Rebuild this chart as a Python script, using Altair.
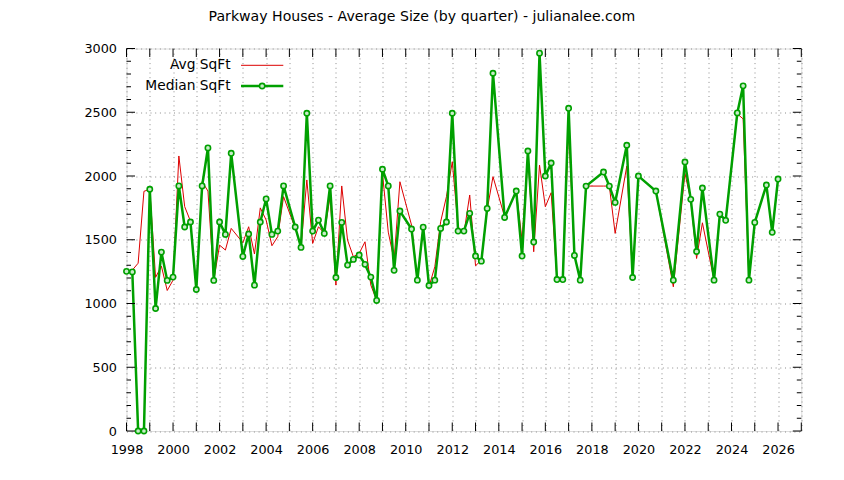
import altair as alt
import pandas as pd

# ---------------- data ----------------
quarters = [
    "1998Q1", "1998Q2", "1998Q3", "1998Q4",
    "1999Q1", "1999Q2", "1999Q3", "1999Q4",
    "2000Q1", "2000Q2", "2000Q3", "2000Q4",
    "2001Q1", "2001Q2", "2001Q3", "2001Q4",
    "2002Q1", "2002Q2", "2002Q3",
    "2003Q1", "2003Q2", "2003Q3", "2003Q4",
    "2004Q1", "2004Q2", "2004Q3", "2004Q4",
    "2005Q2", "2005Q3", "2005Q4",
    "2006Q1", "2006Q2", "2006Q3", "2006Q4",
    "2007Q1", "2007Q2", "2007Q3", "2007Q4",
    "2008Q1", "2008Q2", "2008Q3", "2008Q4",
    "2009Q1", "2009Q2", "2009Q3", "2009Q4",
    "2010Q2", "2010Q3", "2010Q4",
    "2011Q1", "2011Q2", "2011Q3", "2011Q4",
    "2012Q1", "2012Q2", "2012Q3", "2012Q4",
    "2013Q1", "2013Q2", "2013Q3", "2013Q4",
    "2014Q2", "2014Q4",
    "2015Q1", "2015Q2", "2015Q3", "2015Q4",
    "2016Q1", "2016Q2", "2016Q3", "2016Q4",
    "2017Q1", "2017Q2", "2017Q3", "2017Q4",
    "2018Q3", "2018Q4",
    "2019Q1", "2019Q3", "2019Q4",
    "2020Q1", "2020Q4",
    "2021Q3",
    "2022Q1", "2022Q2", "2022Q3", "2022Q4",
    "2023Q2", "2023Q3", "2023Q4",
    "2024Q2", "2024Q3", "2024Q4",
    "2025Q1", "2025Q3", "2025Q4",
    "2026Q1",
]

median_sqft = [
    1252, 1248, 0, 0,
    1896, 961, 1403, 1181,
    1207, 1922, 1600, 1639,
    1110, 1922, 2220, 1181,
    1639, 1542, 2178,
    1369, 1545, 1144, 1639,
    1820, 1542, 1568, 1922,
    1600, 1440, 2492,
    1568, 1654, 1550, 1922,
    1204, 1636, 1301, 1346,
    1380, 1307, 1207, 1024,
    2053, 1922, 1260, 1725,
    1584, 1183, 1599,
    1141, 1183, 1589, 1639,
    2492, 1568, 1568, 1707,
    1372, 1332, 1746, 2806,
    1675, 1882,
    1372, 2196, 1482, 2963,
    2000, 2102, 1188, 1188,
    2531, 1377, 1183, 1921,
    2031, 1921,
    1793, 2241, 1204,
    2000, 1882,
    1183,
    2110, 1817, 1408, 1906,
    1183, 1701, 1652,
    2495, 2707, 1183,
    1636, 1929, 1558,
    1976,
]

avg_sqft = [
    1252, 1262, 1316, 1880,
    1896, 1205, 1293, 1102,
    1183, 2157, 1760, 1645,
    1110, 1955, 1882, 1181,
    1458, 1419, 1589,
    1477, 1602, 1388, 1750,
    1655, 1453, 1524, 1838,
    1589, 1445, 1969,
    1471, 1602, 1550, 1838,
    1144, 1922, 1497, 1367,
    1393, 1484, 1144, 1024,
    2021, 1560, 1340, 1955,
    1615, 1183, 1599,
    1131, 1288, 1641, 1838,
    2112, 1602, 1550, 1851,
    1296, 1340, 1733, 1995,
    1680, 1882,
    1497, 2178, 1406, 2086,
    1759, 1869, 1188, 1188,
    2380, 1377, 1183, 1921,
    1921, 1921,
    1550, 2078, 1204,
    2000, 1882,
    1131,
    2021, 1811, 1353, 1633,
    1183, 1701, 1652,
    2487, 2448, 1183,
    1636, 1929, 1558,
    1976,
]

legend_labels = ["Avg SqFt", "Median SqFt"]
title_text = "Parkway Houses - Average Size (by quarter) - julianalee.com"

year_ticks = list(range(1998, 2028))
y_major = [0, 500, 1000, 1500, 2000, 2500, 3000]
y_minor = [v for v in range(0, 3001, 100) if v % 500 != 0]

assert len(quarters) == len(median_sqft) == len(avg_sqft)

df = pd.DataFrame({"quarter": quarters, "avg": avg_sqft, "median": median_sqft})
df["t"] = df["quarter"].str[:4].astype(int) + (df["quarter"].str[-1].astype(int) - 1) / 4.0

# ---------------- styling ----------------
RED = "#dd0000"
GREEN = "#00a000"
FONT = "DejaVu Sans"
W, H = 674.8, 382.5

xscale = alt.Scale(domain=[1998, 2027], nice=False, zero=False)
yscale = alt.Scale(domain=[0, 3000], nice=False, zero=True)

x_axis = alt.Axis(
    values=year_ticks, format="d",
    labelExpr="datum.value % 2 == 0 ? datum.label : ''",
    grid=True, gridDash=[1, 3.7], gridColor="#8c8c8c", gridWidth=1,
    ticks=False, domain=False, labelPadding=12, labelOverlap=False, labelFlush=False,
    labelFont=FONT, labelFontSize=12.8, labelColor="black",
)
y_axis = alt.Axis(
    values=y_major, format="d",
    grid=True, gridDash=[1, 3.7], gridColor="#8c8c8c", gridWidth=1,
    ticks=False, domain=False, labelPadding=10, labelOverlap=False, labelFlush=False,
    labelFont=FONT, labelFontSize=12.8, labelColor="black",
)


def X(field):
    return alt.X(field, type="quantitative", scale=xscale, axis=x_axis, title=None)


def Y(field):
    return alt.Y(field, type="quantitative", scale=yscale, axis=y_axis, title=None)


base = alt.Chart(df)

avg_line = base.mark_line(color=RED, strokeWidth=1).encode(x=X("t"), y=Y("avg"))
med_line = base.mark_line(color=GREEN, strokeWidth=2.5).encode(x=X("t"), y=Y("median"))
med_pts = base.mark_point(
    shape="circle", size=28, filled=False, fill="#c8ecc8", fillOpacity=1,
    stroke=GREEN, strokeWidth=1.6, opacity=1,
).encode(x=X("t"), y=Y("median"))

# inward tick marks (gnuplot style, mirrored on all sides)
xt = alt.Chart(pd.DataFrame({"yr": year_ticks}))
ymaj = alt.Chart(pd.DataFrame({"v": y_major}))
ymin = alt.Chart(pd.DataFrame({"v": y_minor}))
TK = 8.5
TKm = 4.5
ticks = [
    xt.mark_rule(color="black", strokeWidth=1).encode(x=X("yr"), y=alt.value(H), y2=alt.value(H - TK)),
    xt.mark_rule(color="black", strokeWidth=1).encode(x=X("yr"), y=alt.value(0), y2=alt.value(TK)),
    ymaj.mark_rule(color="black", strokeWidth=1).encode(y=Y("v"), x=alt.value(0), x2=alt.value(TK)),
    ymaj.mark_rule(color="black", strokeWidth=1).encode(y=Y("v"), x=alt.value(W - TK), x2=alt.value(W)),
    ymin.mark_rule(color="black", strokeWidth=1).encode(y=Y("v"), x=alt.value(0), x2=alt.value(TKm)),
    ymin.mark_rule(color="black", strokeWidth=1).encode(y=Y("v"), x=alt.value(W - TKm), x2=alt.value(W)),
]

# key (gnuplot style: text, then sample)
la = alt.Chart(pd.DataFrame({"s": [legend_labels[0]]}))
lm = alt.Chart(pd.DataFrame({"s": [legend_labels[1]]}))
ROW1, ROW2 = 16.8, 37.5
TXT_R, S0, S1 = 104.2, 114.5, 156.8
key = [
    la.mark_text(align="right", baseline="middle", font=FONT, fontSize=13.8, color="black").encode(
        text="s:N", x=alt.value(TXT_R), y=alt.value(ROW1)),
    lm.mark_text(align="right", baseline="middle", font=FONT, fontSize=13.8, color="black").encode(
        text="s:N", x=alt.value(TXT_R), y=alt.value(ROW2)),
    la.mark_rule(color=RED, strokeWidth=1).encode(x=alt.value(S0), x2=alt.value(S1), y=alt.value(ROW1)),
    lm.mark_rule(color=GREEN, strokeWidth=2.5).encode(x=alt.value(S0), x2=alt.value(S1), y=alt.value(ROW2)),
    lm.mark_point(shape="circle", size=28, filled=False, fill="#c8ecc8", fillOpacity=1,
                  stroke=GREEN, strokeWidth=1.6, opacity=1).encode(
        x=alt.value((S0 + S1) / 2), y=alt.value(ROW2)),
]

chart = alt.layer(avg_line, med_line, med_pts, *ticks, *key).properties(
    width=W,
    height=H,
    title=alt.TitleParams(
        text=title_text, font=FONT, fontSize=14.1, fontWeight="normal", color="black",
        anchor="middle", frame="group", offset=7.5, baseline="alphabetic", dx=-42,
    ),
    autosize=alt.AutoSizeParams(type="none"),
    padding={"left": 118.5, "top": 40.5, "right": 34.7, "bottom": 41},
).configure_view(stroke="black", strokeWidth=1).configure(background="white")

chart.save("out.html", embed_options={"renderer": "svg", "actions": False})
